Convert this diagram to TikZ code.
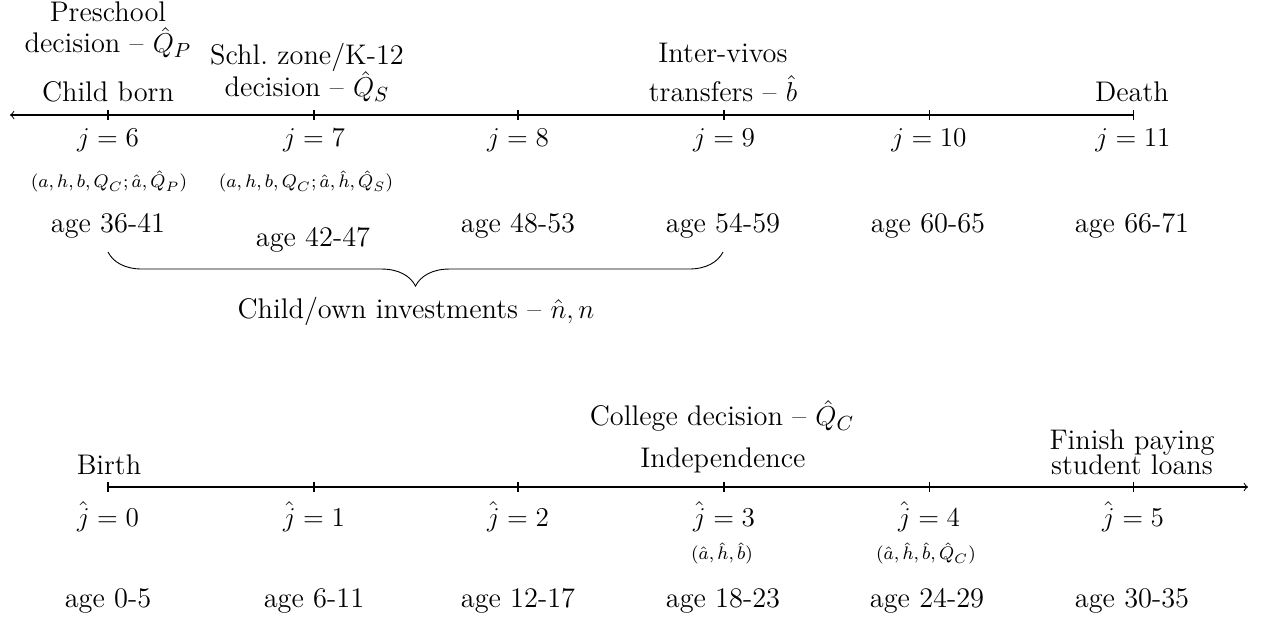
\documentclass[tikz,border=0pt]{standalone}
\usetikzlibrary{decorations.pathreplacing}
\begin{document}
\begin{tikzpicture}[x=0.4405pt,y=-0.4405pt,
  lbl/.style={anchor=base,inner sep=0pt,font=\fontsize{12.5}{15}\selectfont},
  sml/.style={anchor=base,inner sep=0pt,font=\fontsize{8.4}{10}\selectfont},
  axis/.style={line width=0.45pt},
  tickmark/.style={line width=0.45pt}]
\useasboundingbox (0,0) rectangle (1263,619);

% ---------- top timeline ----------
\coordinate (tL) at (10,115);
\coordinate (tR) at (1133,115);
\draw[axis,->] (tR) -- (tL);
\foreach \x in {108,314,518,724,929,1133}{\draw[tickmark] (\x,110) -- (\x,120);}

\node[lbl] (pre1) at (108,22) {Preschool};
\node[lbl] (pre2) at (108,53) {decision -- $\hat{Q}_P$};
\node[lbl] (child) at (108,102) {Child born};
\node[lbl] (sch1) at (307,65) {Schl.\ zone/K-12};
\node[lbl] (sch2) at (307,97) {decision -- $\hat{Q}_S$};
\node[lbl] (iv1) at (723,63) {Inter-vivos};
\node[lbl] (iv2) at (723,102) {transfers -- $\hat{b}$};
\node[lbl] (death) at (1132,102) {Death};

\node[lbl] (j6) at (108,147) {$j=6$};
\node[lbl] (j7) at (314,147) {$j=7$};
\node[lbl] (j8) at (518,147) {$j=8$};
\node[lbl] (j9) at (724,147) {$j=9$};
\node[lbl] (j10) at (929,147) {$j=10$};
\node[lbl] (j11) at (1133,147) {$j=11$};

\node[sml] (s6) at (109,188) {$(a,h,b,Q_C;\hat{a},\hat{Q}_P)$};
\node[sml] (s7) at (306,188) {$(a,h,b,Q_C;\hat{a},\hat{h},\hat{Q}_S)$};

\node[lbl] (a6) at (108,233) {age 36-41};
\node[lbl] (a7) at (313,247) {age 42-47};
\node[lbl] (a8) at (518,233) {age 48-53};
\node[lbl] (a9) at (723,233) {age 54-59};
\node[lbl] (a10) at (928,233) {age 60-65};
\node[lbl] (a11) at (1132,233) {age 66-71};

\coordinate (bL) at (108,252);
\coordinate (bR) at (723,252);
\draw[decorate,decoration={brace,mirror,amplitude=15pt}] (bL) -- (bR);
\node[lbl] (inv) at (416,319) {Child/own investments -- $\hat{n},n$};

% ---------- bottom timeline ----------
\coordinate (uL) at (108,487);
\coordinate (uR) at (1248,487);
\draw[axis,->] (uL) -- (uR);
\foreach \x in {108,314,518,724,929,1133}{\draw[tickmark] (\x,482) -- (\x,492);}

\node[lbl] (coll) at (722,426) {College decision -- $\hat{Q}_C$};
\node[lbl] (ind) at (723,468) {Independence};
\node[lbl] (birth) at (109,475) {Birth};
\node[lbl] (fin1) at (1132,450) {Finish paying};
\node[lbl] (fin2) at (1132,475) {student loans};

\node[lbl] (h0) at (108,527) {$\hat{j}=0$};
\node[lbl] (h1) at (314,527) {$\hat{j}=1$};
\node[lbl] (h2) at (518,527) {$\hat{j}=2$};
\node[lbl] (h3) at (724,527) {$\hat{j}=3$};
\node[lbl] (h4) at (929,527) {$\hat{j}=4$};
\node[lbl] (h5) at (1133,527) {$\hat{j}=5$};

\node[sml] (s3) at (722,560) {$(\hat{a},\hat{h},\hat{b})$};
\node[sml] (s4) at (926,560) {$(\hat{a},\hat{h},\hat{b},\hat{Q}_C)$};

\node[lbl] (b0) at (108,607) {age 0-5};
\node[lbl] (b1) at (314,607) {age 6-11};
\node[lbl] (b2) at (518,607) {age 12-17};
\node[lbl] (b3) at (723,607) {age 18-23};
\node[lbl] (b4) at (927,607) {age 24-29};
\node[lbl] (b5) at (1132,607) {age 30-35};
\end{tikzpicture}
\end{document}
